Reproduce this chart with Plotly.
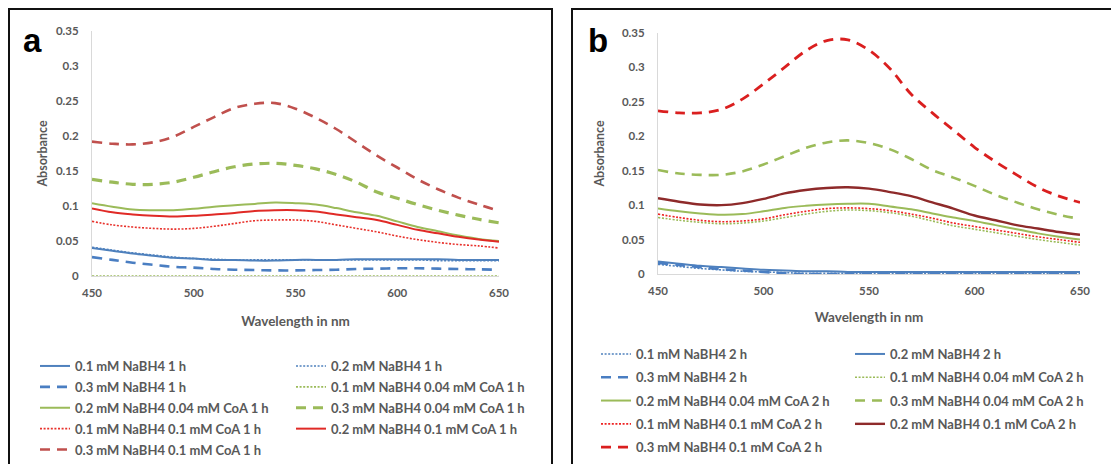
import plotly.graph_objects as go

# ---------------- data ----------------
wavelength = [450, 460, 470, 480, 490, 500, 510, 520, 530, 540, 550,
              560, 570, 580, 590, 600, 610, 620, 630, 640, 650]

# Panel a (1 h)
a_01_nabh4 = [0.040, 0.036, 0.032, 0.029, 0.026, 0.025, 0.023, 0.023, 0.022, 0.022, 0.023,
              0.023, 0.023, 0.024, 0.024, 0.024, 0.024, 0.024, 0.023, 0.023, 0.023]
a_02_nabh4 = [0.041, 0.037, 0.033, 0.030, 0.027, 0.025, 0.024, 0.023, 0.023, 0.023, 0.023,
              0.023, 0.023, 0.023, 0.023, 0.023, 0.023, 0.022, 0.022, 0.022, 0.022]
a_03_nabh4 = [0.027, 0.023, 0.019, 0.016, 0.013, 0.012, 0.010, 0.009, 0.0085, 0.008, 0.008,
              0.0085, 0.009, 0.010, 0.0105, 0.011, 0.011, 0.0105, 0.010, 0.0095, 0.009]
a_01_coa004 = [0.0, 0.0, 0.0, 0.0, 0.0, 0.0, 0.0, 0.0, 0.0, 0.0, 0.0,
               0.0, 0.0, 0.0, 0.0, 0.0, 0.0, 0.0, 0.0, 0.0, 0.0]
a_02_coa004 = [0.104, 0.099, 0.095, 0.094, 0.094, 0.096, 0.099, 0.101, 0.103, 0.105, 0.104,
               0.102, 0.097, 0.091, 0.086, 0.078, 0.070, 0.064, 0.058, 0.053, 0.050]
a_03_coa004 = [0.138, 0.134, 0.131, 0.131, 0.134, 0.141, 0.149, 0.156, 0.160, 0.161, 0.158,
               0.153, 0.145, 0.134, 0.120, 0.111, 0.102, 0.094, 0.087, 0.081, 0.076]
a_01_coa01 = [0.078, 0.073, 0.070, 0.068, 0.067, 0.068, 0.071, 0.075, 0.079, 0.080, 0.080,
              0.078, 0.073, 0.068, 0.063, 0.057, 0.052, 0.048, 0.045, 0.043, 0.040]
a_02_coa01 = [0.0965, 0.091, 0.088, 0.086, 0.085, 0.086, 0.088, 0.090, 0.093, 0.094, 0.094,
              0.092, 0.088, 0.084, 0.080, 0.073, 0.066, 0.061, 0.056, 0.052, 0.049]
a_03_coa01 = [0.192, 0.189, 0.188, 0.191, 0.199, 0.213, 0.227, 0.240, 0.246, 0.247, 0.239,
              0.226, 0.210, 0.191, 0.172, 0.155, 0.138, 0.124, 0.112, 0.102, 0.093]

# Panel b (2 h)
b_01_nabh4 = [0.014, 0.011, 0.008, 0.006, 0.004, 0.003, 0.002, 0.001, 0.001, 0.001, 0.001,
              0.001, 0.001, 0.001, 0.001, 0.001, 0.001, 0.001, 0.001, 0.001, 0.001]
b_02_nabh4 = [0.018, 0.015, 0.012, 0.010, 0.008, 0.006, 0.005, 0.004, 0.004, 0.003, 0.003,
              0.003, 0.003, 0.003, 0.003, 0.003, 0.003, 0.003, 0.003, 0.003, 0.003]
b_03_nabh4 = [0.016, 0.013, 0.010, 0.007, 0.005, 0.003, 0.001, 0.0, 0.0, 0.0, 0.0,
              0.0, 0.0, 0.0, 0.0, 0.0, 0.0, 0.0, 0.0, 0.0, 0.0]
b_01_coa004 = [0.082, 0.078, 0.075, 0.073, 0.074, 0.077, 0.082, 0.087, 0.091, 0.093, 0.092,
               0.089, 0.084, 0.077, 0.070, 0.065, 0.060, 0.055, 0.050, 0.046, 0.042]
b_02_coa004 = [0.095, 0.091, 0.088, 0.086, 0.087, 0.091, 0.096, 0.099, 0.101, 0.102, 0.102,
               0.098, 0.094, 0.088, 0.082, 0.077, 0.071, 0.065, 0.059, 0.054, 0.050]
b_03_coa004 = [0.151, 0.146, 0.144, 0.144, 0.149, 0.159, 0.171, 0.183, 0.191, 0.194, 0.190,
               0.181, 0.167, 0.151, 0.140, 0.128, 0.115, 0.104, 0.094, 0.086, 0.080]
b_01_coa01 = [0.087, 0.082, 0.078, 0.076, 0.077, 0.080, 0.086, 0.091, 0.095, 0.096, 0.095,
              0.092, 0.087, 0.081, 0.074, 0.069, 0.064, 0.059, 0.054, 0.050, 0.046]
b_02_coa01 = [0.110, 0.105, 0.101, 0.100, 0.103, 0.109, 0.117, 0.122, 0.125, 0.126, 0.124,
              0.119, 0.113, 0.104, 0.095, 0.085, 0.078, 0.071, 0.066, 0.061, 0.057]
b_03_coa01 = [0.237, 0.234, 0.234, 0.239, 0.254, 0.276, 0.300, 0.324, 0.339, 0.340, 0.325,
              0.298, 0.261, 0.234, 0.209, 0.184, 0.163, 0.144, 0.126, 0.113, 0.104]

labels_a = ["0.1 mM NaBH4 1 h", "0.2 mM NaBH4 1 h", "0.3 mM NaBH4 1 h",
            "0.1 mM NaBH4 0.04 mM CoA 1 h", "0.2 mM NaBH4 0.04 mM CoA 1 h",
            "0.3 mM NaBH4 0.04 mM CoA 1 h", "0.1 mM NaBH4 0.1 mM CoA 1 h",
            "0.2 mM NaBH4 0.1 mM CoA 1 h", "0.3 mM NaBH4 0.1 mM CoA 1 h"]
labels_b = ["0.1 mM NaBH4 2 h", "0.2 mM NaBH4 2 h", "0.3 mM NaBH4 2 h",
            "0.1 mM NaBH4 0.04 mM CoA 2 h", "0.2 mM NaBH4 0.04 mM CoA 2 h",
            "0.3 mM NaBH4 0.04 mM CoA 2 h", "0.1 mM NaBH4 0.1 mM CoA 2 h",
            "0.2 mM NaBH4 0.1 mM CoA 2 h", "0.3 mM NaBH4 0.1 mM CoA 2 h"]

series_a = [a_01_nabh4, a_02_nabh4, a_03_nabh4, a_01_coa004, a_02_coa004,
            a_03_coa004, a_01_coa01, a_02_coa01, a_03_coa01]
series_b = [b_01_nabh4, b_02_nabh4, b_03_nabh4, b_01_coa004, b_02_coa004,
            b_03_coa004, b_01_coa01, b_02_coa01, b_03_coa01]

# ---------------- styles ----------------
BLUE = "#4F81BD"
GREEN = "#9BBB59"
DOT = "2px,1.6px"
DASH = "10px,7px"

styles_a = [
    dict(color=BLUE, width=2, dash="solid"),
    dict(color=BLUE, width=1.6, dash=DOT),
    dict(color="#4A7EC2", width=2.6, dash=DASH),
    dict(color=GREEN, width=1.6, dash=DOT),
    dict(color=GREEN, width=2, dash="solid"),
    dict(color=GREEN, width=3.2, dash=DASH),
    dict(color="#E8322C", width=1.6, dash=DOT),
    dict(color="#E02A26", width=2, dash="solid"),
    dict(color="#C0504D", width=2.6, dash=DASH),
]
styles_b = [
    dict(color=BLUE, width=1.6, dash=DOT),
    dict(color=BLUE, width=2, dash="solid"),
    dict(color="#4A7EC2", width=2.6, dash=DASH),
    dict(color=GREEN, width=1.6, dash=DOT),
    dict(color=GREEN, width=2, dash="solid"),
    dict(color=GREEN, width=2.6, dash=DASH),
    dict(color="#EE2222", width=1.6, dash=DOT),
    dict(color="#8E2A2A", width=2.4, dash="solid"),
    dict(color="#DA1F1F", width=2.8, dash=DASH),
]

fig = go.Figure()

for i, (ys, name, st) in enumerate(zip(series_a, labels_a, styles_a)):
    fig.add_trace(go.Scatter(
        x=wavelength, y=ys, name=name, mode="lines",
        line=dict(color=st["color"], width=st["width"], dash=st["dash"],
                  shape="spline", smoothing=1.0),
        xaxis="x", yaxis="y",
        legend="legend" if i % 2 == 0 else "legend2",
        legendgroup="a%d" % i,
    ))

for i, (ys, name, st) in enumerate(zip(series_b, labels_b, styles_b)):
    fig.add_trace(go.Scatter(
        x=wavelength, y=ys, name=name, mode="lines",
        line=dict(color=st["color"], width=st["width"], dash=st["dash"],
                  shape="spline", smoothing=1.0),
        xaxis="x2", yaxis="y2",
        legend="legend3" if i % 2 == 0 else "legend4",
        legendgroup="b%d" % i,
    ))

W, H = 1111, 464
TXT = "#595959"
FONT = "Lato"

tickfont = dict(family=FONT, size=11.5, color=TXT, weight="bold")
titlefont = dict(family=FONT, size=13.5, color=TXT, weight="bold")

def xax(domain, anchor, standoff):
    return dict(domain=domain, anchor=anchor, range=[450, 650], dtick=50, tick0=450,
                showgrid=False, zeroline=False, showline=True, linecolor="#D9D9D9",
                linewidth=1, ticks="", tickfont=tickfont, ticklabelstandoff=6,
                automargin=False,
                title=dict(text="Wavelength in nm", font=titlefont, standoff=standoff),
                fixedrange=True)

def yax(domain, anchor, standoff):
    return dict(domain=domain, anchor=anchor, range=[0, 0.35], dtick=0.05, tick0=0,
                showgrid=False, zeroline=False, showline=True, linecolor="#D9D9D9",
                linewidth=1, ticks="", tickfont=tickfont, ticklabelstandoff=10,
                automargin=False,
                title=dict(text="Absorbance", font=dict(family=FONT, size=12.5, color=TXT, weight="bold"),
                           standoff=standoff),
                fixedrange=True)

legfont = dict(family=FONT, size=13, color=TXT, weight="bold")

def leg(x, y, gap):
    return dict(x=x, y=y, xanchor="left", yanchor="top", orientation="v",
                bgcolor="rgba(0,0,0,0)", borderwidth=0, font=legfont,
                tracegroupgap=gap, itemwidth=30)

fig.update_layout(
    width=W, height=H,
    margin=dict(l=0, r=0, t=0, b=0, autoexpand=False),
    paper_bgcolor="white", plot_bgcolor="white",
    xaxis=xax([92 / W, 499 / W], "y", 18),
    yaxis=yax([1 - 276 / H, 1 - 31 / H], "x", 5),
    xaxis2=xax([658 / W, 1080 / W], "y2", 16),
    yaxis2=yax([1 - 274 / H, 1 - 33 / H], "x2", 14),
    legend=leg(35 / W, 1 - 351 / H, 1),
    legend2=leg(291 / W, 1 - 351 / H, 1),
    legend3=leg(596 / W, 1 - 339 / H, 3.4),
    legend4=leg(850 / W, 1 - 339 / H, 3.4),
    showlegend=True,
    shapes=[
        dict(type="rect", xref="paper", yref="paper",
             x0=9 / W, x1=552 / W, y0=-0.05, y1=1 - 9 / H,
             line=dict(color="#111111", width=2), fillcolor="rgba(0,0,0,0)", layer="below"),
        dict(type="rect", xref="paper", yref="paper",
             x0=572 / W, x1=1.02, y0=-0.05, y1=1 - 9 / H,
             line=dict(color="#111111", width=2), fillcolor="rgba(0,0,0,0)", layer="below"),
    ],
    annotations=[
        dict(text="a", xref="paper", yref="paper", x=32 / W, y=1 - 40 / H,
             xanchor="center", yanchor="middle", showarrow=False,
             font=dict(family="Liberation Sans", size=33, color="black", weight="bold")),
        dict(text="b", xref="paper", yref="paper", x=598 / W, y=1 - 40 / H,
             xanchor="center", yanchor="middle", showarrow=False,
             font=dict(family="Liberation Sans", size=33, color="black", weight="bold")),
    ],
)

fig.write_html("out.html",
               config={"displayModeBar": False},
               post_script="document.body.style.margin='0px';document.body.style.overflow='hidden';")
